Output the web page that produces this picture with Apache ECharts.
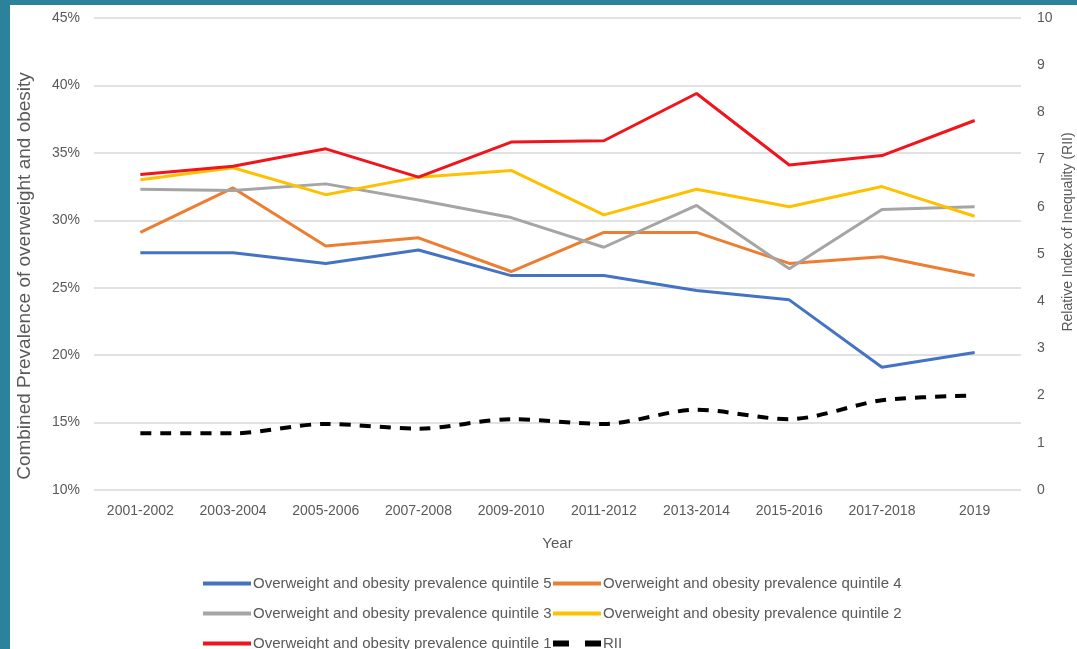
<!DOCTYPE html>
<html>
<head>
<meta charset="utf-8">
<script src="https://cdn.jsdelivr.net/npm/echarts@6/dist/echarts.min.js"></script>
<style>
html,body{margin:0;padding:0;background:#fff;}
#c{width:1077px;height:649px;}
</style>
</head>
<body>
<div id="c"></div>
<script>
const categories = ['2001-2002','2003-2004','2005-2006','2007-2008','2009-2010','2011-2012','2013-2014','2015-2016','2017-2018','2019'];
const q5 = [27.6, 27.6, 26.8, 27.8, 25.9, 25.9, 24.8, 24.1, 19.1, 20.2];
const q4 = [29.1, 32.4, 28.1, 28.7, 26.2, 29.1, 29.1, 26.8, 27.3, 25.9];
const q3 = [32.3, 32.2, 32.7, 31.5, 30.2, 28.0, 31.1, 26.4, 30.8, 31.0];
const q2 = [33.0, 33.9, 31.9, 33.2, 33.7, 30.4, 32.3, 31.0, 32.5, 30.3];
const q1 = [33.4, 34.0, 35.3, 33.2, 35.8, 35.9, 39.4, 34.1, 34.8, 37.4];
const rii = [1.2, 1.2, 1.4, 1.3, 1.5, 1.4, 1.7, 1.5, 1.9, 2.0];

const names = [
  'Overweight and obesity prevalence quintile 5',
  'Overweight and obesity prevalence quintile 4',
  'Overweight and obesity prevalence quintile 3',
  'Overweight and obesity prevalence quintile 2',
  'Overweight and obesity prevalence quintile 1',
  'RII'
];
const colors = ['#4472C4', '#ED7D31', '#A5A5A5', '#FFC000', '#F0141C', '#000000'];

const chart = echarts.init(document.getElementById('c'));
const txt = '#595959';
const fontFamily = 'Liberation Sans, Arial, sans-serif';

function line(i, data, axisIdx) {
  return {
    name: names[i], type: 'line', data: data, yAxisIndex: axisIdx,
    symbol: 'none', smooth: false,
    lineStyle: { color: colors[i], width: 3 },
    itemStyle: { color: colors[i] }
  };
}

const legendPos = [[203, 576], [553, 576], [203, 606], [553, 606], [203, 636], [553, 636]];

const series = [
  line(0, q5, 0), line(1, q4, 0), line(2, q3, 0), line(3, q2, 0), line(4, q1, 0),
  Object.assign(line(5, rii, 1), { smooth: 0.3, lineStyle: { color: '#000', width: 4, type: [11, 9] } })
];

chart.setOption({
  backgroundColor: '#fff',
  animation: false,
  textStyle: { fontFamily: fontFamily },
  legend: names.map((n, i) => ({
    data: [{ name: n, icon: i === 5 ? 'path://M0,0 L16,0 L16,6 L0,6 Z M32,0 L48,0 L48,6 L32,6 Z' : 'rect' }],
    left: legendPos[i][0], top: legendPos[i][1], padding: 0,
    itemWidth: 48, itemHeight: i === 5 ? 6 : 4, itemGap: 0,
    textStyle: { color: txt, fontSize: 15, fontFamily: fontFamily, padding: [0, 0, 0, -3] }
  })),
  grid: { left: 94, right: 56, top: 18, bottom: 159, containLabel: false },
  xAxis: {
    type: 'category', data: categories, boundaryGap: true,
    axisLine: { show: false }, axisTick: { show: false },
    axisLabel: { color: txt, fontSize: 14, margin: 14 },
    name: 'Year', nameLocation: 'middle', nameGap: 46,
    nameTextStyle: { color: txt, fontSize: 15 }
  },
  yAxis: [
    {
      type: 'value', min: 10, max: 45, interval: 5,
      axisLine: { show: false }, axisTick: { show: false },
      axisLabel: { color: txt, fontSize: 14, margin: 14, formatter: v => v + '%' },
      splitLine: { lineStyle: { color: '#d9d9d9', width: 1.5 } }
    },
    {
      type: 'value', min: 0, max: 10, interval: 1, position: 'right',
      axisLine: { show: false }, axisTick: { show: false },
      axisLabel: { color: txt, fontSize: 14, margin: 16 },
      splitLine: { show: false }
    }
  ],
  graphic: [
    { type: 'rect', left: 0, top: 0, shape: { width: 1077, height: 5 }, style: { fill: '#2D829B' }, z: 100 },
    { type: 'rect', left: 0, top: 0, shape: { width: 10, height: 649 }, style: { fill: '#2D829B' }, z: 100 },
    { type: 'text', x: 25, y: 276, rotation: Math.PI / 2,
      style: { text: 'Combined Prevalence of overweight and obesity', fill: txt, fontSize: 19, fontFamily: fontFamily, textAlign: 'center', textVerticalAlign: 'middle' } },
    { type: 'text', x: 1068, y: 232, rotation: Math.PI / 2,
      style: { text: 'Relative Index of Inequality (RII)', fill: txt, fontSize: 14, fontFamily: fontFamily, textAlign: 'center', textVerticalAlign: 'middle' } }
  ],
  series: series
});
</script>
</body>
</html>
